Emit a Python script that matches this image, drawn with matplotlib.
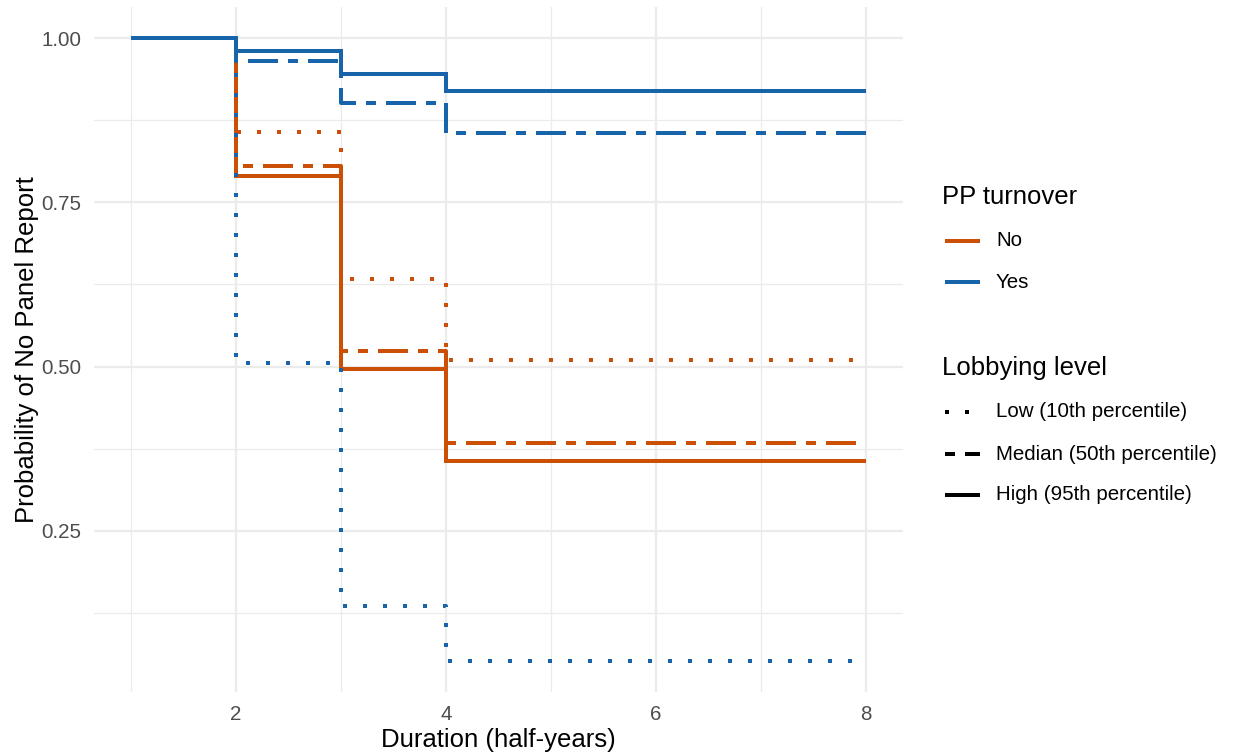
import matplotlib
matplotlib.use("Agg")
import matplotlib.pyplot as plt
from matplotlib.lines import Line2D

# ---------------- data ----------------
times = [1, 2, 3, 4, 8]
turnover_levels = ["No", "Yes"]
lobby_levels = ["Low (10th percentile)", "Median (50th percentile)", "High (95th percentile)"]

no_low = [1.00, 0.857, 0.634, 0.510, 0.510]
no_median = [1.00, 0.805, 0.523, 0.384, 0.384]
no_high = [1.00, 0.790, 0.497, 0.356, 0.356]
yes_low = [1.00, 0.506, 0.136, 0.052, 0.052]
yes_median = [1.00, 0.965, 0.901, 0.855, 0.855]
yes_high = [1.00, 0.981, 0.945, 0.920, 0.920]

x_ticks = [2, 4, 6, 8]
y_ticks = [0.25, 0.50, 0.75, 1.00]
y_ticklabels = ["0.25", "0.50", "0.75", "1.00"]

series = {
    "No": [no_low, no_median, no_high],
    "Yes": [yes_low, yes_median, yes_high],
}

# ---------------- style ----------------
W, H = 1236, 753
FONT = "Liberation Sans"
plt.rcParams["font.family"] = [FONT, "DejaVu Sans"]
colors = {"No": "#cb4f05", "Yes": "#1764ab"}
lstyles = [(0, (1, 4)), (0, (2.5, 2.5, 7.5, 2.5)), "-"]
LW = 2.88  # = 4 px at 100 dpi

fig = plt.figure(figsize=(W / 100, H / 100), dpi=100)
ax = fig.add_axes([94 / W, 1 - 692 / H, (903 - 94) / W, (692 - 7) / H])

for turn in turnover_levels:
    for vals, ls in zip(series[turn], lstyles):
        ax.step(times, vals, where="post", color=colors[turn], lw=LW, ls=ls,
                solid_capstyle="butt", dash_capstyle="butt", solid_joinstyle="miter")

# limits with ggplot-like expansion
xmin, xmax = min(times), max(times)
allv = [v for t in turnover_levels for s in series[t] for v in s]
ymin, ymax = min(allv), max(allv)
ax.set_xlim(xmin - 0.05 * (xmax - xmin), xmax + 0.05 * (xmax - xmin))
ax.set_ylim(ymin - 0.05 * (ymax - ymin), ymax + 0.05 * (ymax - ymin))

ax.set_xticks(x_ticks)
ax.set_xticks([1, 3, 5, 7], minor=True)
ax.set_yticks(y_ticks)
ax.set_yticklabels(y_ticklabels)
ax.set_yticks([0.125, 0.375, 0.625, 0.875], minor=True)
ax.grid(True, which="major", color="#ebebeb", lw=1.6)
ax.grid(True, which="minor", color="#ebebeb", lw=0.9)
ax.set_axisbelow(True)
for s in ax.spines.values():
    s.set_visible(False)
ax.tick_params(which="both", length=0)
ax.tick_params(axis="x", labelsize=14.8, labelcolor="#4d4d4d", pad=9)
ax.tick_params(axis="y", labelsize=14.8, labelcolor="#4d4d4d", pad=9)

ax.set_xlabel("Duration (half-years)", fontsize=18.5, color="black", labelpad=3)
ax.set_ylabel("Probability of No Panel Report", fontsize=18.5, color="black", labelpad=2)

# ---------------- legends (manual, figure pixel coords) ----------------
def fx(px):
    return px / W

def fy(py):
    return 1 - py / H

fig.text(fx(942), fy(197), "PP turnover", fontsize=18.5, va="center", ha="left")
for lab, ypx in zip(turnover_levels, [241, 282]):
    fig.add_artist(Line2D([fx(945), fx(980)], [fy(ypx), fy(ypx)], color=colors[lab],
                          lw=LW, solid_capstyle="butt"))
    fig.text(fx(996), fy(ypx), lab, fontsize=14.8, va="center", ha="left")

fig.text(fx(942), fy(368), "Lobbying level", fontsize=18.5, va="center", ha="left")
for lab, ls, ypx in zip(lobby_levels, lstyles, [412, 454, 495]):
    fig.add_artist(Line2D([fx(945), fx(980)], [fy(ypx), fy(ypx)], color="black",
                          lw=LW, ls=ls, solid_capstyle="butt", dash_capstyle="butt"))
    fig.text(fx(996), fy(ypx), lab, fontsize=14.8, va="center", ha="left")

fig.savefig("out.png", dpi=100, facecolor="white")
